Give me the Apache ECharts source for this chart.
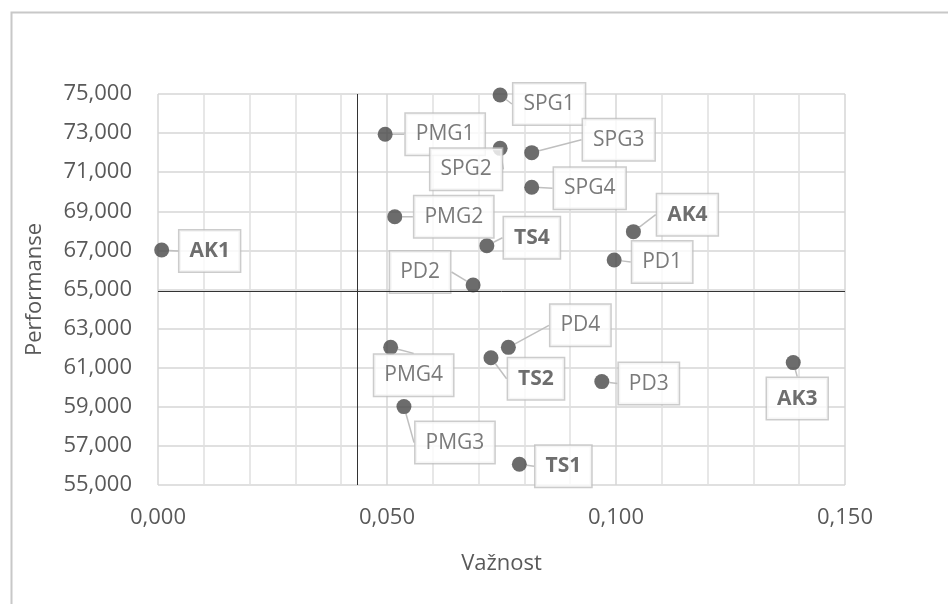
<!DOCTYPE html>
<html>
<head>
<meta charset="utf-8">
<script src="https://cdn.jsdelivr.net/npm/echarts@6/dist/echarts.min.js"></script>
<style>
  html, body { margin: 0; padding: 0; background: #fff; }
  #chart { width: 948px; height: 604px; }
</style>
</head>
<body>
<div id="chart"></div>
<script>
// podaci - vaznost / performanse
var names = ['AK1', 'PMG1', 'PMG2', 'PD2', 'SPG1', 'SPG2', 'SPG3', 'SPG4', 'TS4',
             'AK4', 'PD1', 'PD4', 'TS2', 'PD3', 'AK3', 'TS1', 'PMG4', 'PMG3'];
var vaznost = [0.0008, 0.0496, 0.0517, 0.0688, 0.0747, 0.0747, 0.0816, 0.0816, 0.0718,
               0.1038, 0.0996, 0.0765, 0.0727, 0.0969, 0.1387, 0.0789, 0.0508, 0.0537];
var performanse = [67.02, 72.94, 68.72, 65.23, 74.95, 72.22, 72.00, 70.23, 67.24,
                   67.96, 66.51, 62.04, 61.51, 60.29, 61.26, 56.06, 62.04, 59.01];
var xTicks = [0, 0.05, 0.1, 0.15];
var yTicks = [55, 57, 59, 61, 63, 65, 67, 69, 71, 73, 75];
var xRef = 0.0434;   // prag vaznosti
var yRef = 64.89;    // prag performansi

// pomak oznaka (px) od tocke
var labelOffsets = {
	AK1: [48, 1], PMG1: [60, 0], PMG2: [59, 0], PD2: [-53, -13], SPG1: [49, 9],
	SPG2: [-34, 21], SPG3: [87, -13], SPG4: [58, 1], TS4: [45, -8], AK4: [54, -17],
	PD1: [48, 2], PD4: [72, -22], TS2: [45, 21], PD3: [47, 2], AK3: [4, 36],
	TS1: [44, 2], PMG4: [23, 28], PMG3: [51, 36]
};

function fmt3(v) {
	return v.toFixed(3).replace('.', ',');
}

var seriesData = [];
for (var i = 0; i < names.length; i++) {
	var bold = /^(AK|TS)/.test(names[i]);
	seriesData.push({
		name: names[i],
		value: [vaznost[i], performanse[i]],
		label: { fontWeight: bold ? 'bold' : 'normal', color: bold ? '#4a4a4a' : '#595959' }
	});
}

var textColor = '#595959';
var fontFam = '"Open Sans", "Noto Sans", sans-serif';

var chart = echarts.init(document.getElementById('chart'));
var option = {
	animation: false,
	backgroundColor: '#fff',
	graphic: [{
		type: 'rect',
		left: 9, top: 10,
		shape: { width: 1200, height: 900 },
		style: { fill: 'none', stroke: '#c8c8c8', lineWidth: 2 },
		silent: true
	}],
	grid: { left: 158, right: 103, top: 94, bottom: 119 },
	xAxis: {
		type: 'value',
		min: xTicks[0], max: xTicks[xTicks.length - 1], interval: xTicks[1] - xTicks[0],
		name: 'Važnost',
		nameLocation: 'middle',
		nameGap: 68,
		nameTextStyle: { color: textColor, fontSize: 22, fontFamily: fontFam },
		axisLine: { show: false },
		axisTick: { show: false },
		axisLabel: { color: textColor, fontSize: 22, fontFamily: fontFam, margin: 22, formatter: fmt3 },
		splitLine: { show: true, lineStyle: { color: '#d6d6d6', width: 1.5 } },
		minorTick: { show: false, splitNumber: 5 },
		minorSplitLine: { show: true, lineStyle: { color: '#e0e0e0', width: 1.5 } }
	},
	yAxis: {
		type: 'value',
		min: yTicks[0], max: yTicks[yTicks.length - 1], interval: yTicks[1] - yTicks[0],
		name: 'Performanse',
		nameLocation: 'middle',
		nameGap: 112,
		nameTextStyle: { color: textColor, fontSize: 22, fontFamily: fontFam },
		axisLine: { show: false },
		axisTick: { show: false },
		axisLabel: { color: textColor, fontSize: 22, fontFamily: fontFam, margin: 26, formatter: fmt3 },
		splitLine: { show: true, lineStyle: { color: '#d6d6d6', width: 1.5 } }
	},
	series: [{
		type: 'scatter',
		data: seriesData,
		symbol: 'circle',
		symbolSize: 15,
		itemStyle: { color: '#474747' },
		z: 3,
		label: {
			show: true,
			position: 'inside',
			formatter: '{b}',
			color: textColor,
			fontSize: 21,
			fontFamily: fontFam,
			lineHeight: 22,
			backgroundColor: '#fff',
			borderColor: '#bfbfbf',
			borderWidth: 1.5,
			padding: [10, 10, 9, 10]
		},
		labelLine: { show: true, lineStyle: { color: '#bfbfbf', width: 1.5 } },
		labelLayout: function (params) {
			var off = labelOffsets[names[params.dataIndex]];
			return { dx: off[0], dy: off[1] };
		},
		markLine: {
			silent: true,
			symbol: 'none',
			precision: 4,
			label: { show: false },
			lineStyle: { color: '#333', width: 1, type: 'solid' },
			data: [{ xAxis: xRef }, { yAxis: yRef }]
		}
	}]
};
chart.setOption(option);
</script>
</body>
</html>
